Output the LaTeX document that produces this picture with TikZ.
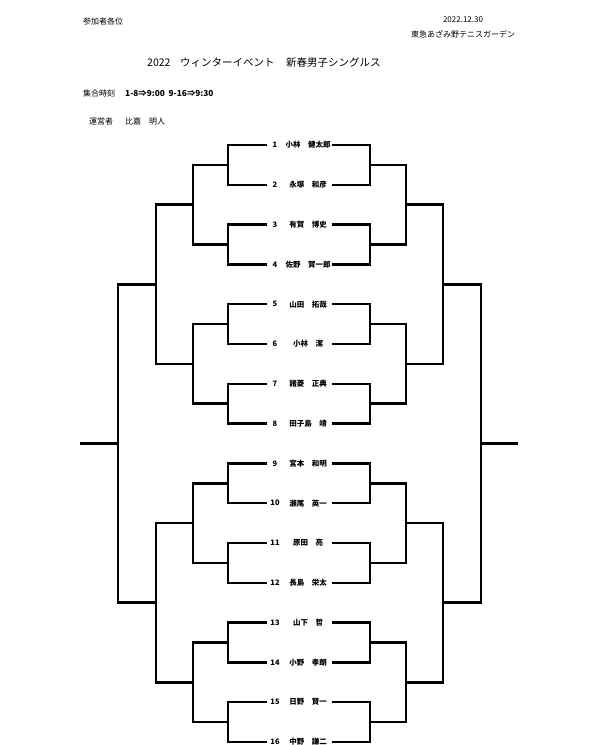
\documentclass[tikz,border=0pt]{standalone}
\usepackage{fontspec}
\setmainfont{Noto Sans CJK JP}
\begin{document}
\begin{tikzpicture}[x=1pt,y=-1pt,
  bline/.style={line width=2.5pt,line cap=rect,line join=miter,black},
  hdr/.style={inner sep=0pt,font=\fontsize{8}{9}\selectfont},
  ttl/.style={inner sep=0pt,anchor=west,font=\fontsize{10.5}{12}\selectfont},
  numtxt/.style={inner sep=0pt,font=\bfseries\fontsize{7.5}{8}\selectfont},
  nametxt/.style={inner sep=0pt,font=\bfseries\fontsize{7.5}{8}\selectfont},
  slot/.style={inner sep=0pt,minimum width=67pt,minimum height=6pt}]
\useasboundingbox (0,0) rectangle (600,745);
% header
\node[hdr,anchor=west] (h1) at (83,21) {参加者各位};
\node[hdr] (h2) at (463,20) {2022.12.30};
\node[hdr] (h3) at (463,34) {東急あざみ野テニスガーデン};
\node[ttl] (t1) at (147,63) {2022};
\node[ttl] (t2) at (180,63) {ウィンターイベント};
\node[ttl] (t3) at (286,63) {新春男子シングルス};
\node[hdr,anchor=west] (s1) at (83,93) {集合時刻};
\node[hdr,anchor=west,font=\bfseries\fontsize{8.3}{9}\selectfont] (s2) at (125,93) {1-8⇒9:00\ \ 9-16⇒9:30};
\node[hdr,anchor=west] (u1) at (89,121) {運営者};
\node[hdr,anchor=west] (u2) at (125,121) {比嘉　明人};
% players
\foreach \i/\nm in {1/{小林　健太郎},2/{永塚　和彦},3/{有賀　博史},4/{佐野　賀一郎},
  5/{山田　拓哉},6/{小林　潔},7/{諸菱　正典},8/{田子島　靖},
  9/{宮本　和明},10/{瀬尾　英一},11/{原田　亮},12/{長島　栄太},
  13/{山下　哲},14/{小野　孝朗},15/{日野　賢一},16/{中野　謙二}}{
  \pgfmathsetmacro\yy{145+(\i-1)*39.8}
  \node[slot] (p\i) at (299.5,\yy) {};
  \node[numtxt] (n\i) at (275,\yy) {\i};
  \node[nametxt] (m\i) at (308,\yy) {\nm};
}
% round 1
\foreach \k in {1,...,8}{
  \pgfmathtruncatemacro\ka{2*\k-1}
  \pgfmathtruncatemacro\kb{2*\k}
  \pgfmathsetmacro\yy{145+(2*\k-1.5)*39.8}
  \draw[bline] (p\ka.west) -- ++(-38,0) |- (p\kb.west);
  \draw[bline] (p\ka.east) -- ++(37,0) |- (p\kb.east);
  \coordinate (a\k) at (193,\yy);
  \coordinate (ar\k) at (406,\yy);
  \draw[bline] (a\k) -- ++(35,0);
  \draw[bline] (ar\k) -- ++(-36,0);
}
% round 2
\foreach \j in {1,...,4}{
  \pgfmathtruncatemacro\ja{2*\j-1}
  \pgfmathtruncatemacro\jb{2*\j}
  \pgfmathsetmacro\yy{145+(4*\j-2.5)*39.8}
  \draw[bline] (a\ja) -- (a\jb);
  \draw[bline] (ar\ja) -- (ar\jb);
  \coordinate (b\j) at (156,\yy);
  \coordinate (br\j) at (443,\yy);
  \draw[bline] (b\j) -- ++(37,0);
  \draw[bline] (br\j) -- ++(-37,0);
}
% round 3
\foreach \h in {1,2}{
  \pgfmathtruncatemacro\ha{2*\h-1}
  \pgfmathtruncatemacro\hb{2*\h}
  \pgfmathsetmacro\yy{145+(8*\h-4.5)*39.8}
  \draw[bline] (b\ha) -- (b\hb);
  \draw[bline] (br\ha) -- (br\hb);
  \coordinate (c\h) at (118,\yy);
  \coordinate (cr\h) at (481,\yy);
  \draw[bline] (c\h) -- ++(38,0);
  \draw[bline] (cr\h) -- ++(-38,0);
}
% final
\draw[bline] (c1) -- (c2);
\draw[bline] (cr1) -- (cr2);
\coordinate (f) at (81,443.4);
\coordinate (fr) at (517,443.4);
\draw[bline] (f) -- ++(37,0);
\draw[bline] (fr) -- ++(-36,0);
\end{tikzpicture}
\end{document}
